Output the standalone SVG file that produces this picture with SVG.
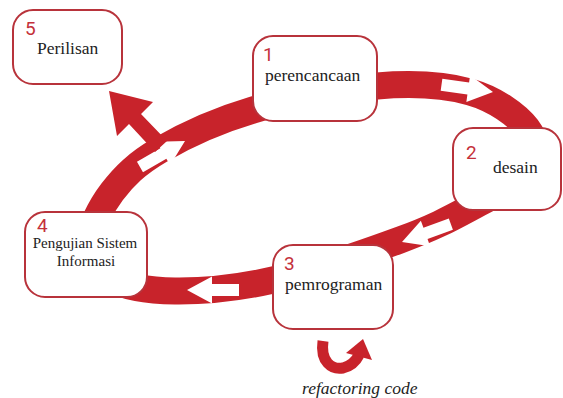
<svg xmlns="http://www.w3.org/2000/svg" width="563" height="398" viewBox="0 0 563 398">
<style>
.box{fill:#ffffff;stroke:#b8333b;stroke-width:2}
.num{font-family:Roboto,"Liberation Sans",sans-serif;font-size:19px;fill:#c4303a}
.lbl{font-family:"Times New Roman",Times,"Liberation Serif","Noto Serif","DejaVu Serif",serif;font-size:17.5px;fill:#222222}
.sm{font-size:15px}
.ring{fill:none;stroke:#c8232b;stroke-width:27}
.wa{fill:#ffffff}
.red{fill:#c8232b}
</style>
<defs>
<path id="wa" d="M-52,-6 L-25,-6 L-25,-13.5 L0,0 L-25,13.5 L-25,6 L-52,6 Z"/>
</defs>
<g id="connectors">
<path class="ring" d="M88,245 C88.7,230.7 100,207.8 112,192 C124,176.2 136.5,163.7 160,150 C183.5,136.3 216.8,120.7 253,110 C289.2,99.3 340.8,89 377,86 C413.2,83 445,85 470,92 C495,99 517,115 527,128 C537,141 539.5,156.7 530,170 C520.5,183.3 491.7,196.3 470,208 C448.3,219.7 432.8,228 400,240 C367.2,252 310.5,271.5 273,280 C235.5,288.5 202.5,291.3 175,291 C147.5,290.7 122.5,285.7 108,278 C93.5,270.3 87.3,259.3 88,245 Z"/>
<use href="#wa" class="wa" transform="translate(185,141) rotate(-30)"/>
<use href="#wa" class="wa" transform="translate(493,92) rotate(8)"/>
<use href="#wa" class="wa" transform="translate(402,242) rotate(160)"/>
<use href="#wa" class="wa" transform="translate(187,290) rotate(180)"/>
<polygon class="red" points="109,91 153,102 141,114 167,141 155,152 129,124 117,136"/>
<path d="M323,341 C320,362 332,370 343,368 C351,366 356,361 359,355" fill="none" stroke="#c8232b" stroke-width="11"/>
<polygon class="red" points="363,339 372,360 346,353"/>
</g>
<g id="node5">
<rect class="box" x="13" y="10" width="109" height="74" rx="20"/>
<text class="num" x="25" y="35">5</text>
<text class="lbl" x="37" y="54">Perilisan</text>
</g>
<g id="node1">
<rect class="box" x="253" y="36" width="124" height="85" rx="20"/>
<text class="num" x="263" y="61">1</text>
<text class="lbl" x="265" y="81">perencancaan</text>
</g>
<g id="node2">
<rect class="box" x="453" y="128" width="108" height="82" rx="20"/>
<text class="num" x="466" y="159">2</text>
<text class="lbl" x="493" y="173">desain</text>
</g>
<g id="node3">
<rect class="box" x="273" y="245" width="120" height="84" rx="20"/>
<text class="num" x="284" y="270">3</text>
<text class="lbl" x="285" y="290">pemrograman</text>
</g>
<g id="node4">
<rect class="box" x="25" y="212" width="122" height="85" rx="20"/>
<text class="num" x="37" y="232">4</text>
<text class="lbl sm" x="85" y="248" text-anchor="middle">Pengujian Sistem</text>
<text class="lbl sm" x="86" y="266" text-anchor="middle">Informasi</text>
</g>
<text class="lbl" x="302" y="394" font-style="italic" font-size="16.5">refactoring code</text>
</svg>
